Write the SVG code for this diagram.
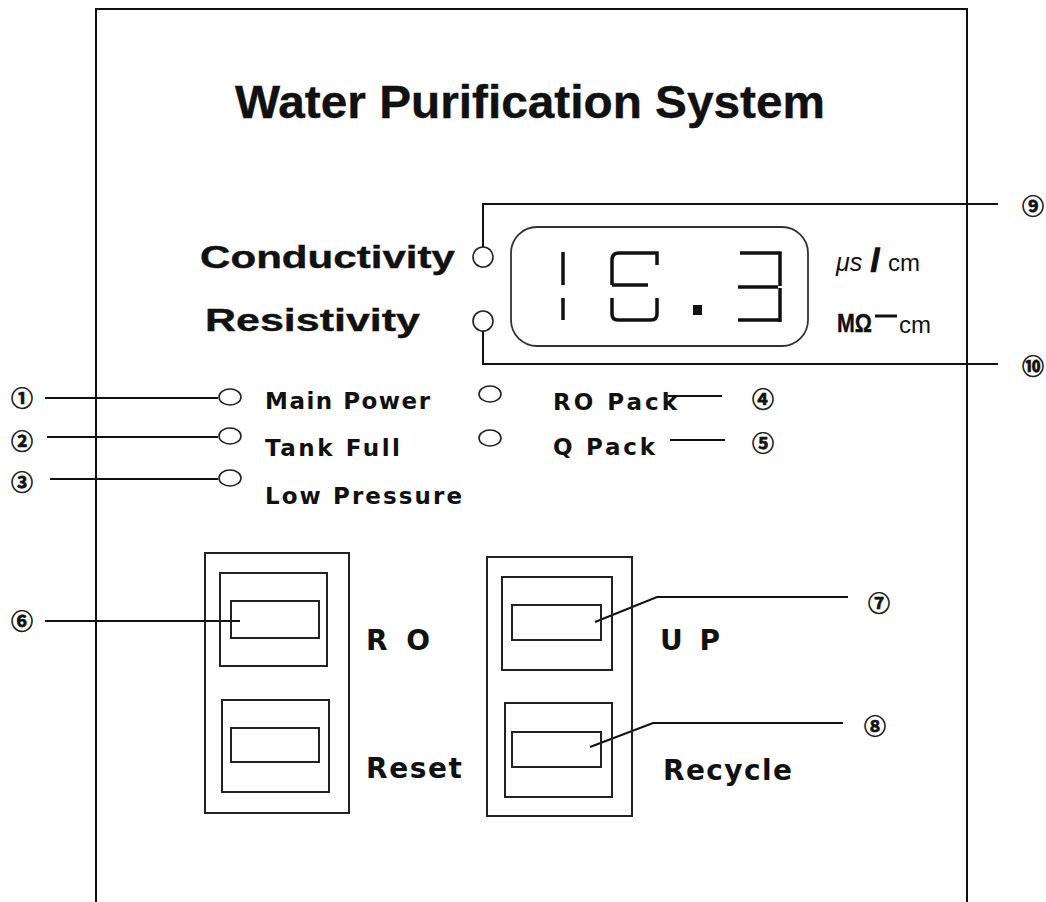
<svg xmlns="http://www.w3.org/2000/svg" width="1046" height="902" viewBox="0 0 1046 902">
<style>
.ln{stroke:#111;stroke-width:2;fill:none}
.led{stroke:#222;stroke-width:1.6;fill:#fff}
.box{stroke:#222;stroke-width:2;fill:none}
.seg{stroke:#111;stroke-width:3.5;fill:none;stroke-linecap:butt}
.lbl{font-family:"Liberation Sans",Arial,sans-serif;font-weight:bold;fill:#111;stroke:#111;stroke-width:0.4}
.sm{font-family:"DejaVu Sans","Liberation Sans",sans-serif;font-weight:bold;fill:#111}
.num{font-family:"Noto Sans CJK KR","DejaVu Sans",sans-serif;font-weight:bold;font-size:22px;fill:#111;stroke:#111;stroke-width:0.6;text-anchor:middle}
.unit{font-family:"Liberation Sans",Arial,sans-serif;fill:#111}
</style>
<rect width="1046" height="902" fill="#fff"/>
<path class="ln" d="M96,902 V9 H967 V902"/>
<text class="lbl" x="235" y="118" font-size="46" stroke-width="1.2" textLength="590" lengthAdjust="spacingAndGlyphs">Water Purification System</text>

<g id="connectors">
<path class="ln" d="M483,247 V204 H998"/>
<path class="ln" d="M483,331 V364 H998"/>
<line class="ln" x1="45" y1="398" x2="218" y2="398"/>
<line class="ln" x1="47" y1="437" x2="218" y2="437"/>
<line class="ln" x1="50" y1="479" x2="218" y2="479"/>
<line class="ln" x1="668" y1="396" x2="722" y2="396"/>
<line class="ln" x1="670" y1="440" x2="725" y2="440"/>
<line class="ln" x1="45" y1="621" x2="240" y2="621"/>
<path class="ln" d="M595,622 L657,597 H848"/>
<path class="ln" d="M590,747 L653,723 H843"/>
</g>

<g id="display">
<rect x="511" y="227" width="297" height="119" rx="26" ry="26" stroke="#333" stroke-width="1.8" fill="none"/>
<path class="seg" d="M563,252 V285 M563,298 V320"/>
<path class="seg" d="M612,285 V260 Q612,253 619,253 H657 V265 M612,285 H648 M612,298 V314 Q612,320 618,320 H651 Q657,320 657,314 V298"/>
<rect x="693" y="305" width="9" height="10" fill="#111"/>
<path class="seg" d="M740,253 H780 V286 M738,287 H778 M738,320 H779 M780,288 V322"/>
</g>

<g id="conductivity">
<text class="lbl" x="200" y="268" font-size="32" stroke-width="1.2" textLength="255" lengthAdjust="spacingAndGlyphs">Conductivity</text>
<circle class="led" cx="483" cy="257" r="10"/>
<text class="num" x="1033" y="214">⑨</text>
</g>
<g id="resistivity">
<text class="lbl" x="205" y="331" font-size="32" stroke-width="1.2" textLength="215" lengthAdjust="spacingAndGlyphs">Resistivity</text>
<circle class="led" cx="483" cy="321" r="10"/>
<text class="num" x="1033" y="374">⑩</text>
</g>
<g id="units">
<text class="unit" x="836" y="271" font-size="25" font-style="italic">μs</text>
<text class="unit" x="871" y="271" font-size="32" font-weight="bold" stroke="#111" stroke-width="1.5">/</text>
<text class="unit" x="888" y="271" font-size="24">cm</text>
<text class="lbl" x="837" y="332" font-size="25" stroke-width="0.5" textLength="35" lengthAdjust="spacingAndGlyphs">MΩ</text>
<line x1="875" y1="316" x2="897" y2="316" stroke="#111" stroke-width="3"/>
<text class="unit" x="899" y="333" font-size="24">cm</text>
</g>

<g id="main-power">
<ellipse class="led" cx="230" cy="397" rx="11" ry="8"/>
<text class="sm" x="265" y="409" font-size="23" textLength="165" lengthAdjust="spacing">Main Power</text>
<text class="num" x="22" y="406">①</text>
</g>
<g id="tank-full">
<ellipse class="led" cx="230" cy="436" rx="11" ry="8"/>
<text class="sm" x="265" y="456" font-size="23" textLength="135" lengthAdjust="spacing">Tank Full</text>
<text class="num" x="22" y="449">②</text>
</g>
<g id="low-pressure">
<ellipse class="led" cx="230" cy="478" rx="11" ry="8"/>
<text class="sm" x="265" y="504" font-size="23" textLength="197" lengthAdjust="spacing">Low Pressure</text>
<text class="num" x="22" y="490">③</text>
</g>
<g id="ro-pack">
<ellipse class="led" cx="490" cy="394" rx="11" ry="8"/>
<text class="sm" x="553" y="410" font-size="23" textLength="124" lengthAdjust="spacing">RO Pack</text>
<text class="num" x="763" y="407">④</text>
</g>
<g id="q-pack">
<ellipse class="led" cx="490" cy="438" rx="11" ry="8"/>
<text class="sm" x="553" y="455" font-size="23" textLength="102" lengthAdjust="spacing">Q Pack</text>
<text class="num" x="763" y="451">⑤</text>
</g>

<g id="ro-reset-panel">
<rect class="box" x="205" y="553" width="144" height="260"/>
<rect class="box" x="220" y="573" width="107" height="93"/>
<rect class="box" x="231" y="601" width="88" height="37"/>
<rect class="box" x="222" y="700" width="107" height="92"/>
<rect class="box" x="231" y="728" width="88" height="34"/>
<text class="sm" x="366" y="650" font-size="28" textLength="64" lengthAdjust="spacing">R O</text>
<text class="sm" x="366" y="778" font-size="28" textLength="96" lengthAdjust="spacing">Reset</text>
<text class="num" x="22" y="629">⑥</text>
</g>
<g id="up-recycle-panel">
<rect class="box" x="487" y="557" width="145" height="259"/>
<rect class="box" x="502" y="577" width="110" height="93"/>
<rect class="box" x="512" y="605" width="89" height="35"/>
<rect class="box" x="505" y="703" width="107" height="94"/>
<rect class="box" x="512" y="732" width="89" height="35"/>
<text class="sm" x="660" y="650" font-size="28" textLength="60" lengthAdjust="spacing">U P</text>
<text class="sm" x="663" y="780" font-size="28" textLength="129" lengthAdjust="spacing">Recycle</text>
<text class="num" x="879" y="611">⑦</text>
<text class="num" x="875" y="734">⑧</text>
</g>
</svg>
